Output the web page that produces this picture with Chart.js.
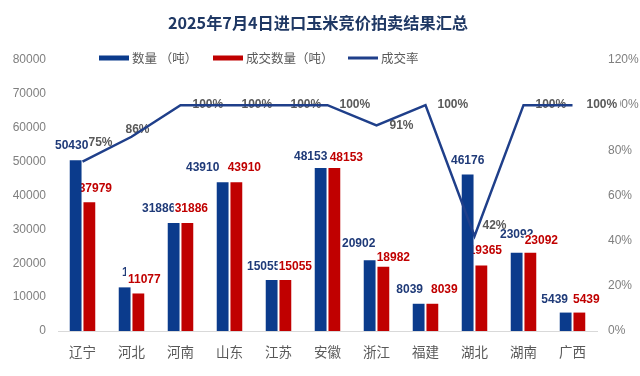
<!DOCTYPE html>
<html>
<head>
<meta charset="utf-8">
<script src="https://cdn.jsdelivr.net/npm/chart.js@4"></script>
<style>
  html, body { margin: 0; padding: 0; background: #fff; }
  #wrap { width: 640px; height: 376px; position: relative; }
</style>
</head>
<body>
<div id="wrap"><canvas id="c"></canvas></div>
<script>
/* ── data ── */
const provinces = ['辽宁', '河北', '河南', '山东', '江苏', '安徽', '浙江', '福建', '湖北', '湖南', '广西'];
const quantity  = [50430, 12880, 31886, 43910, 15055, 48153, 20902, 8039, 46176, 23092, 5439];
const dealQty   = [37979, 11077, 31886, 43910, 15055, 48153, 18982, 8039, 19365, 23092, 5439];
const dealRate  = [75, 86, 100, 100, 100, 100, 91, 100, 42, 100, 100];
const leftTicks = [0, 10000, 20000, 30000, 40000, 50000, 60000, 70000, 80000];
const rightTicks = [0, 20, 40, 60, 80, 100, 120];

const TITLE = '2025年7月4日进口玉米竞价拍卖结果汇总';
const LEGEND = ['数量 （吨）', '成交数量（吨）', '成交率'];

const BLUE = '#0b3b8c';
const RED = '#c00000';
const LINE = '#1f3f8a';
const GRAY = '#7f7f7f';
const CJK = "'Noto Sans CJK SC', sans-serif";
const NUM = "'Liberation Sans', Arial, sans-serif";

// label nudges (px) - the original labels were hand placed
const blueDx = [-4, 14, -15, -20, -8, -10, -11, -9, 0, 0, -11];
const blueDy = [-14, -15, -14, -15, -13, -11, -17, -14, -14, -18, -13];
const redDx  = [6, 6, 4, 8, 10, 12, 10, 12, 4, 11, 7];
const redDy  = [-14, -14, -14, -15, -13, -10, -9, -14, -15, -12, -13];
const rateDx = [6, -6, 12, 12, 12, 12, 13, 12, 8, 12, 14];
const rateDy = [-19, -7, 0, 0, 0, 0, 0, 0, -10, 0, 0];

function rateLabels(ctx, chart) {
  const ml = chart.getDatasetMeta(2);
  ctx.textAlign = 'left';
  dealRate.forEach((v, i) => {
    const p = ml.data[i];
    const txt = v + '%';
    const x = p.x + rateDx[i], y = p.y + rateDy[i];
    const w = ctx.measureText(txt).width;
    ctx.fillStyle = '#fff';
    ctx.fillRect(x, y - 7, w + 3, 14);
    ctx.fillStyle = '#595959';
    ctx.fillText(txt, x, y);
  });
}

function barLabels(ctx, chart) {
  const mb = chart.getDatasetMeta(0), mr = chart.getDatasetMeta(1);
  ctx.textAlign = 'center';
  const blueX = [];
  quantity.forEach((v, i) => {
    const b = mb.data[i];
    blueX[i] = b.x + blueDx[i];
    ctx.fillStyle = '#1f3a78';
    ctx.fillText(String(v), blueX[i], b.y + blueDy[i]);
  });
  dealQty.forEach((v, i) => {
    const b = mr.data[i];
    const txt = String(v);
    const x = b.x + redDx[i], y = b.y + redDy[i];
    const w = ctx.measureText(txt).width;
    // where the red label sits right on the blue one, its box hides it
    const tall = Math.abs(x - blueX[i]) < w / 2;
    ctx.fillStyle = '#fff';
    if (tall) ctx.fillRect(x - w / 2 - 2, y - 13, w + 4, 20);
    else ctx.fillRect(x - w / 2 - 1, y - 6, w + 2, 12);
    ctx.fillStyle = RED;
    ctx.fillText(txt, x, y);
  });
}

function titleAndLegend(chart) {
  const ctx = chart.ctx;
  ctx.save();
  ctx.textBaseline = 'middle';
  ctx.textAlign = 'center';
  ctx.fillStyle = '#1f3864';
  ctx.font = 'bold 16.2px ' + CJK;
  ctx.fillText(TITLE, 318, 23);

  ctx.textAlign = 'left';
  ctx.font = '12.5px ' + CJK;
  const items = [
    { x: 99, color: BLUE, h: 5 },
    { x: 213, color: RED, h: 5 },
    { x: 348, color: LINE, h: 3 }
  ];
  items.forEach((it, i) => {
    ctx.fillStyle = it.color;
    ctx.fillRect(it.x, 58 - it.h / 2, 30, it.h);
    ctx.fillStyle = '#595959';
    ctx.fillText(LEGEND[i], it.x + 33, 58);
  });
  ctx.restore();
}

const labelPlugin = {
  id: 'labelPlugin',
  beforeDatasetsDraw(chart) {
    const ctx = chart.ctx;
    ctx.save();
    ctx.font = 'bold 12px ' + NUM;
    ctx.textBaseline = 'middle';
    rateLabels(ctx, chart);
    barLabels(ctx, chart);
    ctx.restore();
  },
  afterDraw: titleAndLegend
};

new Chart(document.getElementById('c'), {
  type: 'bar',
  data: {
    labels: provinces,
    datasets: [
      { label: LEGEND[0], data: quantity, backgroundColor: BLUE, yAxisID: 'y', order: 1,
        categoryPercentage: 0.56, barPercentage: 0.86 },
      { label: LEGEND[1], data: dealQty, backgroundColor: RED, yAxisID: 'y', order: 1,
        categoryPercentage: 0.56, barPercentage: 0.86 },
      { type: 'line', label: LEGEND[2], data: dealRate, yAxisID: 'y1', order: 0,
        borderColor: LINE, backgroundColor: LINE, borderWidth: 2.5, pointRadius: 0,
        tension: 0, fill: false }
    ]
  },
  options: {
    responsive: true,
    maintainAspectRatio: false,
    animation: false,
    layout: { padding: { top: 60, left: 0, right: 0, bottom: 0 } },
    plugins: {
      legend: { display: false },
      title: { display: false },
      tooltip: { enabled: false }
    },
    scales: {
      x: {
        grid: { display: false, drawTicks: false },
        border: { display: true, color: '#d9d9d9', width: 1 },
        ticks: { color: '#595959', padding: 13, font: { size: 13.5, family: CJK } },
        afterFit: s => { s.height = 45; }
      },
      y: {
        position: 'left',
        min: 0, max: 80000,
        grid: { display: false, drawTicks: false },
        border: { display: false },
        afterBuildTicks: s => { s.ticks = leftTicks.map(v => ({ value: v })); },
        ticks: { color: GRAY, padding: 12, font: { size: 12, family: NUM },
          callback: v => String(v) },
        afterFit: s => { s.width = 58; }
      },
      y1: {
        position: 'right',
        min: 0, max: 120,
        grid: { display: false, drawTicks: false },
        border: { display: false },
        afterBuildTicks: s => { s.ticks = rightTicks.map(v => ({ value: v })); },
        ticks: { color: GRAY, padding: 11, font: { size: 12, family: NUM },
          callback: v => v + '%' },
        afterFit: s => { s.width = 43; }
      }
    }
  },
  plugins: [labelPlugin]
});
</script>
</body>
</html>
